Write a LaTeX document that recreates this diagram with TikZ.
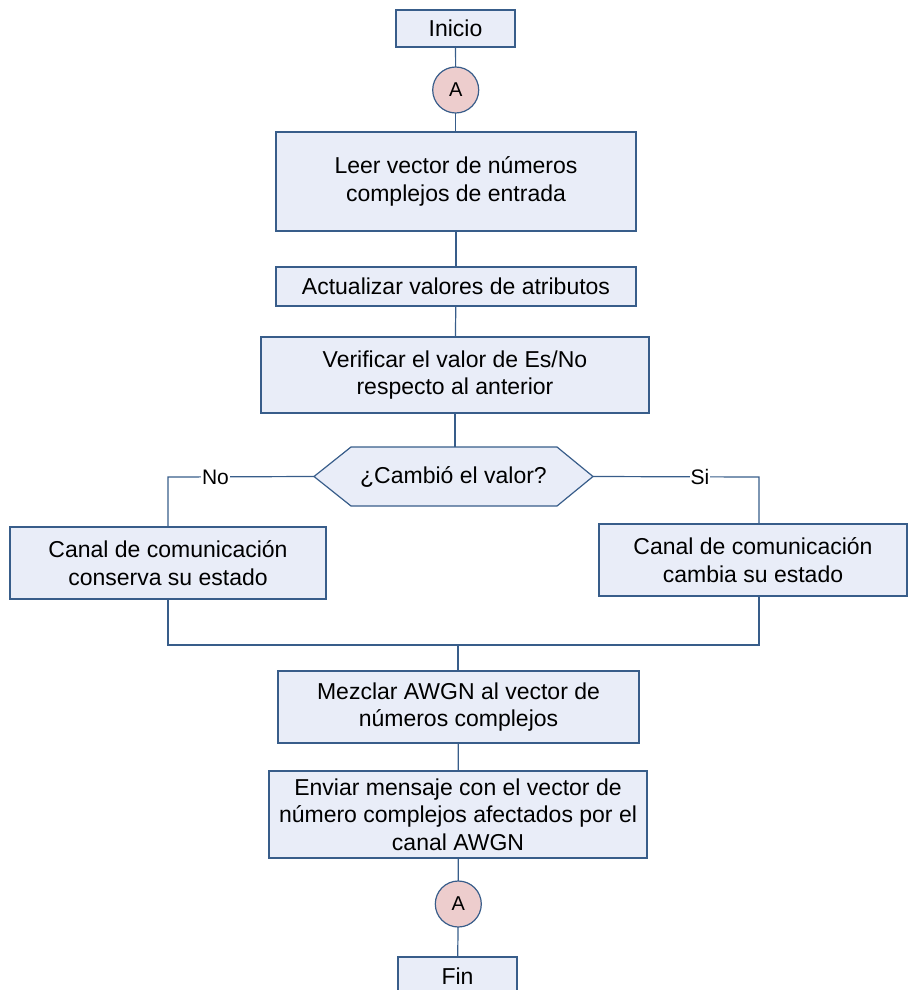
\documentclass[tikz,border=0pt]{standalone}
\usepackage{fontspec}
\setmainfont{Liberation Sans}
\usetikzlibrary{backgrounds}
\definecolor{edge}{RGB}{56,93,138}
\definecolor{boxfill}{RGB}{233,237,248}
\definecolor{dotfill}{RGB}{237,205,205}
\begin{document}
\begin{tikzpicture}[x=1pt,y=-1pt,
  every node/.style={inner sep=0pt,outer sep=0pt,align=center,
    font=\fontsize{23}{27.7}\selectfont},
  proc/.style={draw=edge,fill=boxfill,line width=1.2pt,rectangle},
  joint/.style={draw=edge,fill=dotfill,line width=1.2pt,circle,
    minimum size=46pt,font=\fontsize{20}{24}\selectfont},
  link/.style={draw=edge,line width=1.2pt},
  tag/.style={fill=white,inner xsep=0.6pt,inner ysep=1pt,
    font=\fontsize{21}{24}\selectfont}]
\useasboundingbox (0,0) rectangle (908,990);

% process boxes
\node[proc,minimum width=119pt,minimum height=37pt] (inicio) at (455.5,28.5) {Inicio};
\node[joint] (a1) at (455.7,90) {A};
\node[proc,minimum width=360pt,minimum height=99pt] (leer) at (456,181.5)
  {Leer vector de números\\complejos de entrada};
\node[proc,minimum width=360pt,minimum height=39pt] (act) at (456,286.5)
  {Actualizar valores de atributos};
\node[proc,minimum width=388pt,minimum height=76pt] (verif) at (455,375)
  {Verificar el valor de Es/No\\respecto al anterior};

% decision
\node[minimum width=279pt,minimum height=59pt] (hex) at (453.5,476.5) {¿Cambió el valor?};
\begin{scope}[on background layer]
  \path[proc] (hex.west) -- ([xshift=37pt]hex.north west) -- ([xshift=-36pt]hex.north east)
    -- (hex.east) -- ([xshift=-36pt]hex.south east) -- ([xshift=37pt]hex.south west) -- cycle;
\end{scope}

\node[proc,minimum width=316pt,minimum height=72pt] (keep) at (168,563)
  {Canal de comunicación\\conserva su estado};
\node[proc,minimum width=308pt,minimum height=72pt] (chg) at (753,560)
  {Canal de comunicación\\cambia su estado};

\node[proc,minimum width=361pt,minimum height=72pt] (mix) at (458.5,707)
  {Mezclar AWGN al vector de\\números complejos};
\node[proc,minimum width=378pt,minimum height=87pt] (send) at (458,814.5)
  {Enviar mensaje con el vector de\\número complejos afectados por el\\canal AWGN};
\node[joint] (a2) at (458.3,904) {A};
\node[proc,minimum width=119pt,minimum height=38pt] (fin) at (457.5,976) {Fin};

% junction points
\coordinate (nl) at (168,477);
\coordinate (sr) at (759,477);
\coordinate (jl) at (168,645);
\coordinate (jr) at (759,645);
\coordinate (jm) at (458,645);

% connectors
\begin{scope}[on background layer]
  \draw[link] (inicio) -- (a1);
  \draw[link] (a1) -- (a1 |- leer.north);
  \draw[link] (leer) -- (act);
  \draw[link] (act) -- (verif);
  \draw[link] (verif) -- (verif |- hex.north);
  \draw[link] (hex.west) -- (nl) -- (keep.north -| nl);
  \draw[link] (hex.east) -- (sr) -- (chg.north -| sr);
  \draw[link] (keep.south -| jl) -- (jl) -- (jr) -- (chg.south -| jr);
  \draw[link] (jm) -- (mix.north -| jm);
  \draw[link] (mix) -- (send);
  \draw[link] (send) -- (a2);
  \draw[link] (a2) -- (fin);
\end{scope}

% branch labels
\node[tag] (lno) at (215.5,477) {No};
\node[tag] (lsi) at (700,477) {Si};
\end{tikzpicture}
\end{document}
